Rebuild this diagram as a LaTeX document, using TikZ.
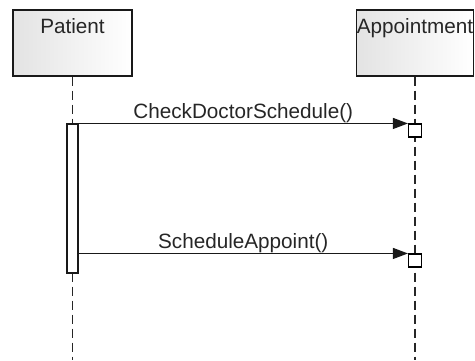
\documentclass[tikz,border=0pt]{standalone}
\usepackage{fontspec}
\setmainfont{Liberation Sans}
\usetikzlibrary{arrows.meta}
\tikzset{
  obj/.style={draw=black!90, line width=1.1pt, left color=gray!22, right color=white,
    inner sep=0pt, text height=23pt, text depth=43pt, text=black!85,
    font=\fontsize{20.7}{24}\selectfont},
  life/.style={draw=black!85, line width=1.1pt, dash pattern=on 9pt off 5pt},
  actbar/.style={draw=black!90, fill=white, line width=1.1pt, minimum width=11pt,
    minimum height=149pt, inner sep=0pt},
  execbox/.style={draw=black, fill=white, line width=1.1pt, minimum size=13pt, inner sep=0pt},
  call/.style={draw=black!90, line width=1.1pt, -{Triangle[length=15pt,width=11pt]}},
  msgtext/.style={font=\fontsize{20.7}{24}\selectfont, text=black!85, anchor=base, yshift=5pt}
}
\begin{document}
\begin{tikzpicture}[x=1pt,y=-1pt]
\useasboundingbox (0,0) rectangle (475,360);

\node[obj, minimum width=119pt] (patient) at (72.5,43) {Patient};
\node[obj, minimum width=116pt] (appt) at (415,43) {Appointment};

\coordinate (pend) at (72.5,360);
\coordinate (aend) at (415,360);
\draw[life] (patient.south) -- (pend);
\draw[life] (appt.south) -- (aend);

\node[actbar] (bar) at (72.5,198.5) {};
\node[execbox] (ex1) at (415,130.5) {};
\node[execbox] (ex2) at (415,260.5) {};

\draw[call] (bar.north east) -- (ex1.north west)
  node[msgtext, midway] {CheckDoctorSchedule()};
\draw[call] (bar.east |- ex2.north west) -- (ex2.north west)
  node[msgtext, midway] {ScheduleAppoint()};
\end{tikzpicture}
\end{document}
